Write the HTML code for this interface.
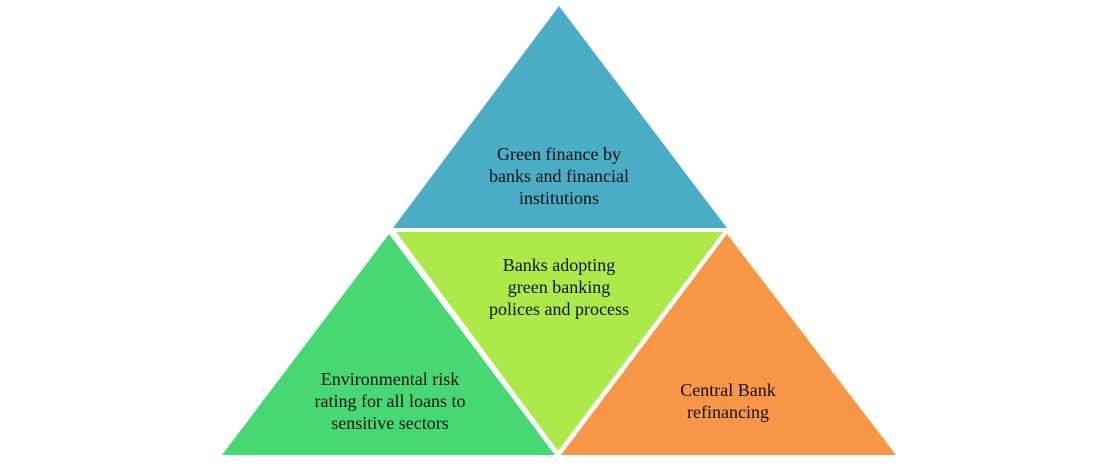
<!DOCTYPE html>
<html><head><style>
body{margin:0;background:#fff;}
svg{display:block;}
text{font-family:"Liberation Serif",serif;font-size:18px;fill:#111;text-anchor:middle;}
</style></head><body>
<svg width="1116" height="469" viewBox="0 0 1116 469">
<polygon points="559,6 393,228 727,228" fill="#4BACC6"/>
<polygon points="389,234 222,455 555,455" fill="#47D873"/>
<polygon points="396,232 723,232 558,451" fill="#AEE94A"/>
<polygon points="727,234 561,455 896,455" fill="#F79646"/>
<text x="559" y="160">Green finance by</text>
<text x="559" y="182">banks and financial</text>
<text x="559" y="204">institutions</text>
<text x="559" y="271">Banks adopting</text>
<text x="559" y="293">green banking</text>
<text x="559" y="315">polices and process</text>
<text x="390" y="385">Environmental risk</text>
<text x="390" y="407">rating for all loans to</text>
<text x="390" y="429">sensitive sectors</text>
<text x="728" y="396">Central Bank</text>
<text x="728" y="418">refinancing</text>
</svg>
</body></html>
